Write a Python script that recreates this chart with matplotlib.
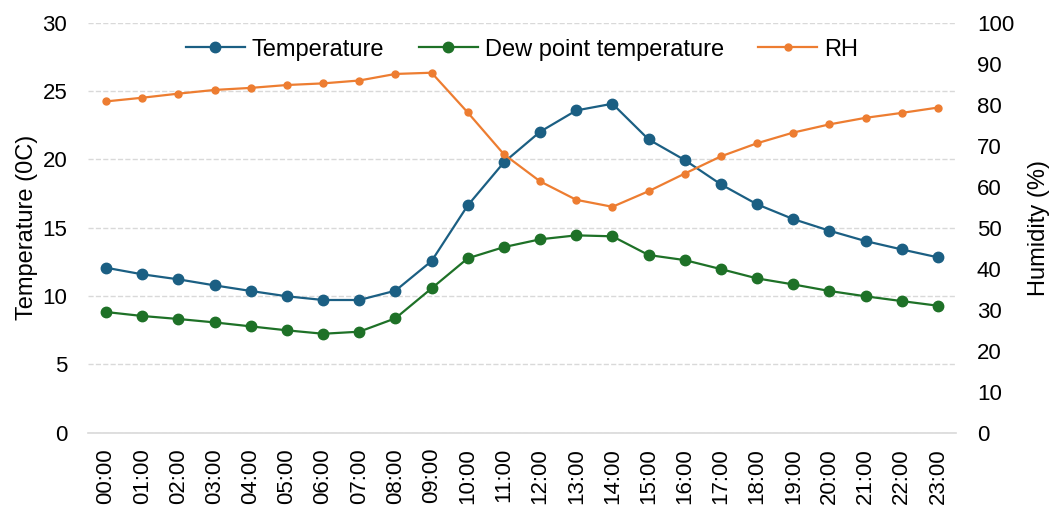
import matplotlib.pyplot as plt

plt.rcParams['font.family'] = ['Liberation Sans', 'DejaVu Sans']

# --- Hourly readings ---
hours = [f"{h:02d}:00" for h in range(24)]
temperature = [12.07, 11.59, 11.22, 10.78, 10.37, 9.98, 9.71, 9.71, 10.39, 12.56,
               16.63, 19.78, 22.02, 23.58, 24.07, 21.46, 19.95, 18.17, 16.71, 15.63,
               14.78, 14.02, 13.41, 12.83]
dew_point = [8.83, 8.54, 8.32, 8.07, 7.78, 7.49, 7.24, 7.39, 8.37, 10.56,
             12.76, 13.58, 14.15, 14.44, 14.37, 13.0, 12.63, 11.97, 11.29, 10.85,
             10.37, 9.98, 9.63, 9.29]
rh = [80.8, 81.7, 82.7, 83.6, 84.1, 84.8, 85.2, 85.9, 87.5, 87.8,
      78.1, 67.9, 61.3, 56.8, 55.1, 58.9, 63.2, 67.4, 70.6, 73.2,
      75.2, 76.8, 78.0, 79.3]

fig = plt.figure(figsize=(10.56, 5.09), dpi=100)
ax = fig.add_axes([88 / 1056, 1 - 432.7 / 509, (956 - 88) / 1056, (432.7 - 22.7) / 509])
ax2 = ax.twinx()

x = range(len(hours))
l1, = ax.plot(x, temperature, color='#1B5F83', lw=1.6, marker='o', ms=7.5, label='Temperature')
l2, = ax.plot(x, dew_point, color='#1E7127', lw=1.6, marker='o', ms=7.5, label='Dew point temperature')
l3, = ax2.plot(x, rh, color='#ED7D31', lw=1.6, marker='o', ms=5, label='RH')

ax.set_ylim(0, 30)
ax.set_yticks(range(0, 31, 5))
ax2.set_ylim(0, 100)
ax2.set_yticks(range(0, 101, 10))
ax.set_xlim(-0.5, 23.5)
ax.set_xticks(list(x))
ax.set_xticklabels(hours, rotation=90)

ax.yaxis.grid(True, color='#D9D9D9', ls='--', lw=1)
ax.set_axisbelow(True)
for a in (ax, ax2):
    for s in a.spines.values():
        s.set_visible(False)
ax.spines['bottom'].set_visible(True)
ax.spines['bottom'].set_color('#D9D9D9')
ax.spines['bottom'].set_linewidth(1.2)

ax.tick_params(axis='both', length=0, labelsize=16, colors='#000000')
ax.tick_params(axis='y', pad=15)
ax.tick_params(axis='x', pad=11)
ax2.tick_params(axis='y', length=0, labelsize=16, pad=15)

ax.set_ylabel('Temperature (0C)', fontsize=17, labelpad=3)
ax2.set_ylabel('Humidity (%)', fontsize=17, labelpad=10)

ax.legend(handles=[l1, l2, l3], loc='center', bbox_to_anchor=(0.5, (433 - 50) / 410),
          ncol=3, frameon=False, fontsize=17, handlelength=2.5, columnspacing=1.45,
          handletextpad=0.3)

fig.savefig('out.png', dpi=100)
